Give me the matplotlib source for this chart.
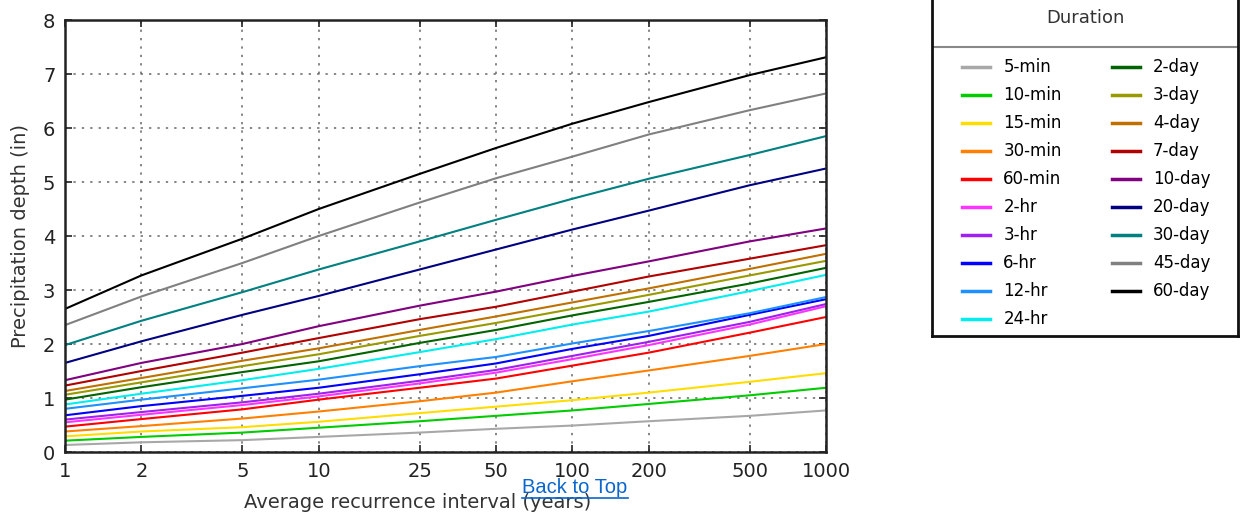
import matplotlib
matplotlib.use("Agg")
import matplotlib.pyplot as plt
from matplotlib.lines import Line2D

# recurrence intervals (years)
ari = [1, 2, 5, 10, 25, 50, 100, 200, 500, 1000]

durations = ['5-min', '10-min', '15-min', '30-min', '60-min', '2-hr', '3-hr', '6-hr',
             '12-hr', '24-hr', '2-day', '3-day', '4-day', '7-day', '10-day', '20-day',
             '30-day', '45-day', '60-day']

colors = ['#a8a8a8', '#00cc00', '#ffdd00', '#ff8000', '#ff0000', '#ff33ff', '#a020f0',
          '#0000ff', '#1e90ff', '#00eeee', '#006400', '#999900', '#bf7000', '#b00000',
          '#800080', '#000080', '#008080', '#808080', '#000000']

# precipitation depth (in) for each duration
d_5min = [0.13, 0.18, 0.22, 0.28, 0.36, 0.43, 0.49, 0.57, 0.67, 0.77]
d_10min = [0.21, 0.28, 0.36, 0.45, 0.57, 0.67, 0.77, 0.89, 1.05, 1.19]
d_15min = [0.29, 0.38, 0.46, 0.56, 0.72, 0.84, 0.96, 1.10, 1.30, 1.46]
d_30min = [0.38, 0.48, 0.62, 0.75, 0.94, 1.10, 1.31, 1.51, 1.78, 2.00]
d_60min = [0.47, 0.61, 0.79, 0.97, 1.19, 1.36, 1.60, 1.84, 2.21, 2.50]
d_2hr = [0.55, 0.69, 0.87, 1.03, 1.27, 1.47, 1.72, 1.98, 2.36, 2.70]
d_3hr = [0.60, 0.74, 0.92, 1.08, 1.32, 1.52, 1.78, 2.04, 2.41, 2.74]
d_6hr = [0.68, 0.85, 1.04, 1.19, 1.44, 1.64, 1.91, 2.15, 2.54, 2.83]
d_12hr = [0.80, 0.97, 1.18, 1.34, 1.59, 1.76, 2.01, 2.24, 2.57, 2.87]
d_24hr = [0.88, 1.08, 1.33, 1.54, 1.85, 2.09, 2.36, 2.60, 2.98, 3.28]
d_2day = [0.97, 1.20, 1.48, 1.68, 2.02, 2.26, 2.53, 2.78, 3.12, 3.41]
d_3day = [1.06, 1.29, 1.59, 1.81, 2.15, 2.39, 2.65, 2.91, 3.27, 3.54]
d_4day = [1.13, 1.37, 1.69, 1.92, 2.26, 2.51, 2.77, 3.03, 3.39, 3.67]
d_7day = [1.23, 1.50, 1.84, 2.11, 2.46, 2.69, 2.97, 3.25, 3.58, 3.83]
d_10day = [1.33, 1.65, 2.00, 2.33, 2.71, 2.97, 3.26, 3.53, 3.90, 4.14]
d_20day = [1.65, 2.05, 2.54, 2.89, 3.38, 3.75, 4.12, 4.47, 4.94, 5.25]
d_30day = [1.98, 2.43, 2.96, 3.38, 3.90, 4.30, 4.69, 5.06, 5.50, 5.85]
d_45day = [2.35, 2.88, 3.50, 4.00, 4.62, 5.07, 5.47, 5.88, 6.33, 6.64]
d_60day = [2.65, 3.27, 3.95, 4.50, 5.15, 5.63, 6.08, 6.48, 6.98, 7.31]

depths = [d_5min, d_10min, d_15min, d_30min, d_60min, d_2hr, d_3hr, d_6hr, d_12hr,
          d_24hr, d_2day, d_3day, d_4day, d_7day, d_10day, d_20day, d_30day,
          d_45day, d_60day]

fig = plt.figure(figsize=(12.41, 5.21), dpi=100)
ax = fig.add_axes([0.0524, 0.1324, 0.6132, 0.8292])

for name, col, vals in zip(durations, colors, depths):
    ax.plot(ari, vals, color=col, lw=1.5, label=name)

ax.set_xscale('log')
ax.set_xlim(1, 1000)
ax.set_ylim(0, 8)
ax.set_xticks(ari)
ax.set_xticklabels([str(v) for v in ari])
ax.xaxis.set_minor_locator(matplotlib.ticker.NullLocator())
ax.set_yticks(range(0, 9))
ax.grid(True, color='#666666', linestyle=(0, (1.5, 4)), lw=1.1)
ax.tick_params(direction='in', top=True, right=True, length=5, width=1.2,
               labelsize=14, colors='#222222', pad=7)
for s in ax.spines.values():
    s.set_linewidth(1.8)
    s.set_color('#222222')

ax.set_xlabel('Average recurrence interval (years)', fontsize=14, color='#333333')
ax.xaxis.set_label_coords(0.464, -0.095)
ax.set_ylabel('Precipitation depth (in)', fontsize=14, color='#333333')
ax.yaxis.set_label_coords(-0.046, 0.5)

# legend box on the right
lax = fig.add_axes([0.751, 0.355, 0.2466, 0.645])
lax.set_xticks([])
lax.set_yticks([])
lax.set_xlim(0, 1)
lax.set_ylim(0, 1)
for s in lax.spines.values():
    s.set_linewidth(2)
    s.set_color('#111111')
lax.spines['top'].set_visible(False)
lax.text(0.5, 0.946, 'Duration', ha='center', va='center', fontsize=13,
         color='#333333')
lax.plot([0, 1], [0.86, 0.86], color='#888888', lw=1.5)

handles = [Line2D([], [], color=c, lw=2.5) for c in colors]
lax.legend(handles, durations, ncol=2, frameon=False, loc='upper left',
           bbox_to_anchor=(0.098, 0.826), borderaxespad=0, borderpad=0,
           handlelength=1.7, handletextpad=0.78, columnspacing=3.0,
           labelspacing=0.6, prop={'size': 12})

# "Back to Top" link overlay
fig.text(0.4634, 0.0634, 'Back to Top', ha='center', va='center', fontsize=14.5,
         color='#0a66cc', family='Liberation Sans')
fig.add_artist(Line2D([522 / 1241, 628 / 1241], [1 - 498 / 521, 1 - 498 / 521],
                      color='#0a66cc', lw=1.2))

fig.savefig('out.png', dpi=100)
